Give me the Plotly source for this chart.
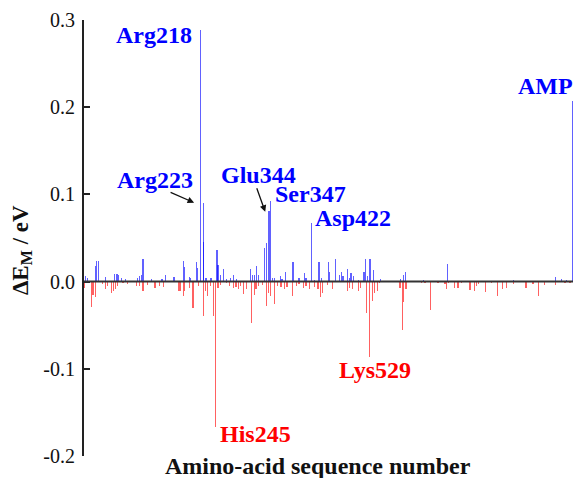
import plotly.graph_objects as go

# Residue numbers and energy contributions (eV)
pos_residues = [6, 10, 24, 26, 30, 43, 60, 64, 67, 73, 80, 102, 105, 109, 112, 127, 147, 153, 169,
                186, 188, 197, 199, 210, 213, 218, 223, 224, 228, 237, 248, 250, 254, 260, 265, 273,
                279, 284, 310, 313, 317, 321, 325, 335, 339, 344, 347, 350, 354, 365, 368, 375, 388,
                399, 409, 412, 422, 428, 436, 440, 453, 455, 466, 474, 477, 480, 488, 492, 495, 500,
                509, 519, 521, 525, 530, 537, 549, 586, 591, 595, 629, 672, 794, 871, 883, 892, 902]
pos_values = [0.006, 0.004, 0.018, 0.024, 0.024, 0.005, 0.009, 0.009, 0.008, 0.004, 0.003, 0.004,
              0.007, 0.008, 0.026, 0.003, 0.003, 0.008, 0.005, 0.024, 0.017, 0.005, 0.004, 0.022,
              0.016, 0.289, 0.090, 0.045, 0.004, 0.004, 0.036, 0.019, 0.008, 0.015, 0.003, 0.004,
              0.008, 0.003, 0.015, 0.008, 0.008, 0.018, 0.008, 0.039, 0.044, 0.081, 0.092, 0.004,
              0.004, 0.006, 0.003, 0.011, 0.022, 0.004, 0.010, 0.004, 0.067, 0.002, 0.022, 0.004,
              0.022, 0.011, 0.026, 0.008, 0.011, 0.006, 0.014, 0.004, 0.010, 0.007, 0.002, 0.011,
              0.026, 0.006, 0.026, 0.013, 0.003, 0.003, 0.008, 0.011, 0.002, 0.020, 0.002, 0.005,
              0.003, 0.002, 0.207]

neg_residues = [4, 17, 20, 24, 38, 43, 46, 54, 57, 62, 65, 75, 83, 100, 106, 112, 120, 134, 142, 149,
                177, 180, 186, 189, 197, 204, 214, 224, 227, 231, 236, 242, 245, 250, 254, 265, 271,
                279, 283, 288, 292, 297, 303, 311, 317, 320, 325, 332, 340, 343, 346, 354, 359, 366,
                372, 377, 387, 394, 399, 408, 412, 418, 428, 434, 439, 443, 451, 461, 489, 492, 497,
                509, 513, 524, 529, 534, 538, 543, 548, 557, 585, 589, 592, 596, 624, 631, 642, 655,
                668, 671, 675, 685, 692, 699, 714, 723, 726, 729, 743, 754, 765, 774, 781, 794, 817,
                830, 840, 851, 872, 889, 898]
neg_values = [-0.007, -0.029, -0.015, -0.018, -0.003, -0.009, -0.005, -0.013, -0.011, -0.009, -0.005,
              -0.002, -0.003, -0.005, -0.005, -0.011, -0.004, -0.007, -0.005, -0.006, -0.011, -0.011,
              -0.016, -0.011, -0.007, -0.030, -0.005, -0.039, -0.011, -0.017, -0.005, -0.040, -0.167,
              -0.007, -0.004, -0.002, -0.005, -0.007, -0.006, -0.008, -0.005, -0.014, -0.008, -0.048,
              -0.015, -0.009, -0.005, -0.004, -0.028, -0.013, -0.017, -0.026, -0.005, -0.006, -0.009,
              -0.006, -0.016, -0.005, -0.003, -0.007, -0.005, -0.009, -0.006, -0.008, -0.018, -0.013,
              -0.004, -0.009, -0.011, -0.007, -0.008, -0.011, -0.007, -0.036, -0.086, -0.022, -0.013,
              -0.011, -0.002, -0.001, -0.007, -0.055, -0.023, -0.009, -0.002, -0.002, -0.032, -0.002,
              -0.003, -0.008, -0.002, -0.007, -0.007, -0.002, -0.010, -0.011, -0.005, -0.003, -0.012,
              -0.002, -0.017, -0.009, -0.007, -0.003, -0.007, -0.003, -0.017, -0.004, -0.004, -0.002,
              -0.002]

y_tick_vals = [-0.2, -0.1, 0.0, 0.1, 0.2, 0.3]
y_tick_text = ["-0.2", "-0.1", "0.0", "0.1", "0.2", "0.3"]

# labels: (text, residue, value, color)
labels = [
    ("Arg218", 132, 0.283, "#0000ff"),
    ("Arg223", 134, 0.116, "#0000ff"),
    ("Glu344", 324, 0.122, "#0000ff"),
    ("Ser347", 420, 0.101, "#0000ff"),
    ("Asp422", 499, 0.073, "#0000ff"),
    ("AMP", 853, 0.224, "#0000ff"),
    ("His245", 319, -0.175, "#ff0000"),
    ("Lys529", 540, -0.101, "#ff0000"),
]

FONT = "Liberation Serif, Times New Roman, serif"

fig = go.Figure()
fig.add_trace(go.Bar(x=pos_residues, y=pos_values, width=2.2,
                     marker=dict(color="rgba(0,0,255,0.62)", line=dict(width=0))))
fig.add_trace(go.Bar(x=neg_residues, y=neg_values, width=2.2,
                     marker=dict(color="rgba(255,0,0,0.62)", line=dict(width=0))))

annotations = []
for text, rx, vy, col in labels:
    annotations.append(dict(x=rx, y=vy, xref="x", yref="y", text="<b>" + text + "</b>",
                            showarrow=False, xanchor="center", yanchor="middle",
                            font=dict(family=FONT, size=24, color=col)))

# arrows
annotations.append(dict(x=206, y=0.0905, xref="x", yref="y", text="", showarrow=True,
                        ax=-25, ay=-11, arrowhead=2, arrowsize=1, arrowwidth=1.3,
                        arrowcolor="#111"))
annotations.append(dict(x=337, y=0.080, xref="x", yref="y", text="", showarrow=True,
                        ax=-9, ay=-25, arrowhead=2, arrowsize=1, arrowwidth=1.3,
                        arrowcolor="#111"))

# axis titles
annotations.append(dict(x=0.471, y=-0.023, xref="paper", yref="paper",
                        text="<b>Amino-acid sequence number</b>", showarrow=False,
                        xanchor="center", yanchor="middle",
                        font=dict(family=FONT, size=24, color="#111")))
annotations.append(dict(x=-0.125, y=0.472, xref="paper", yref="paper",
                        text="<b>ΔE<sub>M</sub> / eV</b>", showarrow=False, textangle=-90,
                        xanchor="center", yanchor="middle",
                        font=dict(family=FONT, size=23, color="#111")))

# The page body has an 8px margin; the figure is sized/offset to compensate.
fig.update_layout(
    width=573, height=470,
    margin=dict(l=76, r=0, t=12, b=22),
    paper_bgcolor="white", plot_bgcolor="white",
    showlegend=False, barmode="overlay", bargap=0,
    annotations=annotations,
    shapes=[dict(type="line", xref="paper", yref="y", x0=0, x1=1, y0=0, y1=0,
                 line=dict(color="#333", width=2), layer="above")],
    xaxis=dict(range=[3.3, 918.4], showline=False, showticklabels=False, ticks="",
               showgrid=False, zeroline=False),
    yaxis=dict(range=[-0.2, 0.3], showline=True, linecolor="#222", linewidth=2,
               ticks="inside", ticklen=6, tickwidth=2, tickcolor="#222",
               tickvals=y_tick_vals, ticktext=y_tick_text,
               tickfont=dict(family=FONT, size=20, color="#111"),
               ticklabelstandoff=3,
               showgrid=False, zeroline=False),
)

fig.write_html("out.html")
